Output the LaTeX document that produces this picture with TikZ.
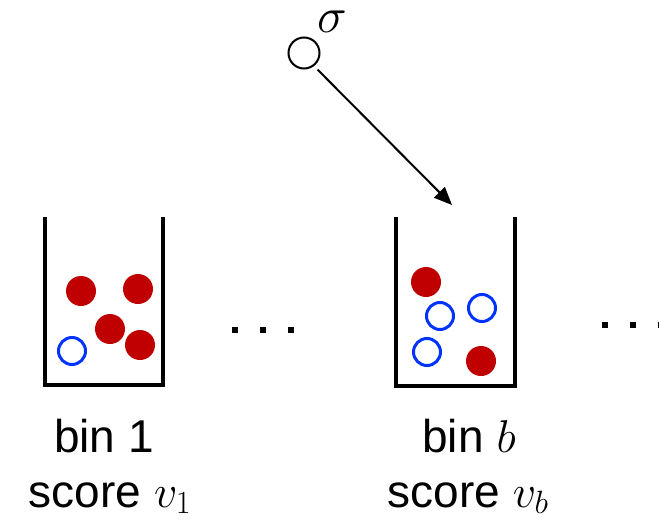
\documentclass[tikz,border=0pt]{standalone}
\usepackage{fix-cm}
\usepackage{fontspec}
\setmainfont{Liberation Sans}
\usetikzlibrary{arrows.meta}
\definecolor{ballred}{RGB}{192,0,0}
\definecolor{ballblue}{RGB}{0,51,255}
\tikzset{
  binwall/.style={line width=4pt, line join=miter, black},
  redball/.style={circle, fill=ballred, inner sep=0pt, minimum size=30pt},
  blueball/.style={circle, draw=ballblue, line width=3pt, fill=white, inner sep=0pt, minimum size=27pt},
  itemball/.style={circle, draw=black, line width=2pt, fill=white, inner sep=0pt, minimum size=31pt},
  dotsq/.style={fill=black, inner sep=0pt, minimum size=6pt},
  lbl/.style={font=\fontsize{46}{52}\selectfont, inner sep=0pt, align=center},
  movearrow/.style={line width=2pt, -{Triangle[length=18pt,width=15pt]}}
}
\begin{document}
\begin{tikzpicture}[x=1pt, y=-1pt]
\useasboundingbox (0,0) rectangle (659,522);

% bin 1
\draw[binwall] (45,217) -- (45,385) -- (163,385) -- (163,217);
\node[redball] (r11) at (81,291) {};
\node[redball] (r12) at (138,289) {};
\node[redball] (r13) at (110,329) {};
\node[redball] (r14) at (140,345) {};
\node[blueball] (u11) at (72,351) {};

% bin b
\draw[binwall] (396,217) -- (396,386) -- (515,386) -- (515,217);
\node[redball] (rb1) at (426,282) {};
\node[blueball] (ub1) at (440,316) {};
\node[blueball] (ub2) at (482,308) {};
\node[blueball] (ub3) at (427,352) {};
\node[redball] (rb2) at (481,361) {};

% ellipses between and after the bins
\node[dotsq] (d1) at (235,330) {};
\node[dotsq] (d2) at (263,330) {};
\node[dotsq] (d3) at (291,330) {};
\node[dotsq] (e1) at (605,325) {};
\node[dotsq] (e2) at (633,325) {};
\node[dotsq] (e3) at (661,325) {};

% incoming item
\node[itemball] (item) at (304,53) {};
\node[font=\fontsize{50}{56}\selectfont, inner sep=0pt, anchor=base west] (sig) at (317,32) {$\sigma$};
\coordinate (drop) at (452,205);
\draw[movearrow] (item.-50) ++(3,4) coordinate (start) (start) -- (drop);

% labels
\node[lbl, anchor=base] (b1) at (104,452) {bin 1};
\node[lbl, anchor=base] (s1) at (110,507) {score $v_1$};
\node[lbl, anchor=base] (bb) at (469,452) {bin $b$};
\node[lbl, anchor=base] (sb) at (468,507) {score $v_b$};
\end{tikzpicture}
\end{document}
